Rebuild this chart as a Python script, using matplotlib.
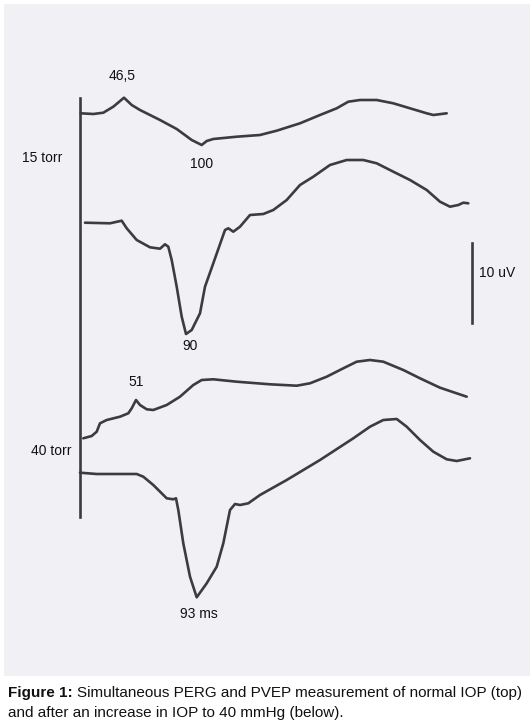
import numpy as np
import matplotlib
matplotlib.use("Agg")
import matplotlib.pyplot as plt
from matplotlib.patches import Rectangle

plt.rcParams['font.family'] = ['Liberation Sans', 'DejaVu Sans']

# traces (x, y in page pixels, y grows downward)
perg_15_x = [80.7, 93.3, 103.3, 113.3, 124, 131.7, 140, 160, 176.7, 191.7, 201.7, 206.7, 213.3,
             236.7, 260, 276.7, 300, 320, 336.7, 348.3, 360, 376.7, 393.3, 410, 426.7, 433.3, 446.7]
perg_15_y = [113.3, 114, 112.7, 106.7, 97.7, 105, 110, 120, 129, 140, 145, 141, 139,
             136.7, 135, 130.7, 123.3, 115, 108.3, 101.7, 100, 100, 103.3, 108.3, 113.3, 115, 113.3]

pvep_15_x = [85, 110, 121.7, 126.7, 136.7, 150, 160, 165, 168.3, 171.7, 176.7, 181.7, 186, 191.7,
             200, 205, 213.3, 225, 228.3, 233.3, 240, 250, 263.3, 273.3, 286.7, 300, 313.3, 330,
             346.7, 363.3, 376.7, 393.3, 410, 426.7, 440, 450, 458.3, 463.3, 468.3]
pvep_15_y = [222.7, 223.3, 220.7, 228.3, 240, 247.3, 248.7, 244.3, 246.7, 260, 286.7, 316.7, 334, 330,
             313.3, 286.7, 263.3, 230, 228.3, 231.7, 226.7, 215, 214, 210, 200, 185, 176.7, 165,
             160, 160, 163.3, 171.7, 180, 190, 201.7, 206.7, 205, 202.7, 203.3]

perg_40_x = [83.3, 91.7, 96.7, 100, 106.7, 120, 128.3, 131.7, 136, 140, 146.7, 153.3, 166.7, 180,
             193.3, 201.7, 213.3, 236.7, 270, 296.7, 310, 326.7, 343.3, 356.7, 370, 383.3, 403.3,
             420, 440, 466.7]
perg_40_y = [438.3, 436, 431.7, 423.3, 420, 416.7, 413.3, 408.3, 400, 405, 409.3, 410, 405, 396.7,
             385, 380, 379.3, 381.7, 384.3, 385.7, 383.3, 376.7, 368.3, 361.7, 360, 361.7, 370,
             378.3, 387.7, 396.7]

pvep_40_x = [80, 96.7, 136.7, 143.3, 153.3, 166.7, 173.3, 176, 178.3, 183.3, 190, 196.7, 206.7,
             216.7, 223.3, 230, 235, 240, 248.3, 260, 286.7, 320, 353.3, 370, 383.3, 396.7, 406.7,
             420, 433.3, 446.7, 456.7, 470]
pvep_40_y = [472.7, 474, 474, 476.7, 485, 498.3, 499.3, 498.3, 510, 543.3, 576.7, 597.3, 583.3,
             566.7, 543.3, 510, 504, 505, 503.3, 495, 480, 460, 438.3, 426.7, 420, 419, 426.7,
             440, 451.7, 459.3, 461, 458.3]

labels = ["46,5", "100", "90", "15 torr", "51", "40 torr", "93 ms", "10 uV"]
label_x = [122, 202, 190, 42, 136, 51, 199, 479]
label_y = [76, 164, 346, 158, 382, 451, 614, 273]
label_ha = ["center", "center", "center", "center", "center", "center", "center", "left"]

fig = plt.figure(figsize=(5.30, 7.26), dpi=100)
ax = fig.add_axes([0, 0, 1, 1])
ax.set_xlim(0, 530)
ax.set_ylim(726, 0)
ax.axis('off')

# scanned paper area
ax.add_patch(Rectangle((4, 4), 526, 672, facecolor='#f1f0f5', edgecolor='none', zorder=0))

ink = '#3c3c3c'
for xs, ys in [(perg_15_x, perg_15_y), (pvep_15_x, pvep_15_y),
               (perg_40_x, perg_40_y), (pvep_40_x, pvep_40_y)]:
    ax.plot(xs, ys, color=ink, lw=1.9, solid_joinstyle='round', solid_capstyle='round')

# vertical baseline and 10 uV scale bar
ax.plot([79.5, 79.5], [98, 517], color=ink, lw=1.9)
ax.plot([472, 472], [243, 323], color=ink, lw=1.9)

for t, x, y, ha in zip(labels, label_x, label_y, label_ha):
    ax.text(x, y, t, ha=ha, va='center', fontsize=10, color='#111111')

# caption: bold lead, then normal text right after it
fs = 11
lead = ax.text(8, 693, "Figure 1:", fontsize=fs, fontweight='bold', va='center', color='#111111')
fig.canvas.draw()
bb = lead.get_window_extent()
x_end = ax.transData.inverted().transform((bb.x1, bb.y0))[0]
ax.text(x_end + 4, 693, "Simultaneous PERG and PVEP measurement of normal IOP (top)",
        fontsize=fs, va='center', color='#111111')
ax.text(8, 713, "and after an increase in IOP to 40 mmHg (below).",
        fontsize=fs, va='center', color='#111111')

fig.savefig("out.png", dpi=100, facecolor='white')
